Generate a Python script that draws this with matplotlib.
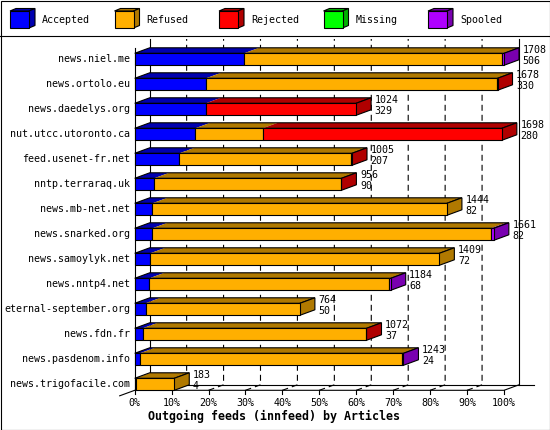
import numpy as np
import matplotlib
matplotlib.use('Agg')
import matplotlib.pyplot as plt
from matplotlib.patches import Polygon, Rectangle

plt.rcParams['lines.scale_dashes'] = False

# data
hosts = ['news.niel.me', 'news.ortolo.eu', 'news.daedelys.org',
         'nut.utcc.utoronto.ca', 'feed.usenet-fr.net', 'nntp.terraraq.uk',
         'news.mb-net.net', 'news.snarked.org', 'news.samoylyk.net',
         'news.nntp4.net', 'eternal-september.org', 'news.fdn.fr',
         'news.pasdenom.info', 'news.trigofacile.com']
offered = [1708, 1678, 1024, 1698, 1005, 956, 1444, 1661, 1409, 1184, 764, 1072, 1243, 183]
accepted = [506, 330, 329, 280, 207, 90, 82, 82, 72, 68, 50, 37, 24, 4]
refused = [1195, 1345, 0, 312, 795, 862, 1362, 1566, 1337, 1110, 714, 1031, 1214, 179]
rejected = [0, 3, 695, 1106, 3, 4, 0, 0, 0, 0, 0, 4, 0, 0]
missing = [0] * 14
spooled = [7, 0, 0, 0, 0, 0, 0, 13, 0, 6, 0, 0, 5, 0]
series = ['Accepted', 'Refused', 'Rejected', 'Missing', 'Spooled']
colors = ['#0000FF', '#FFAF00', '#FF0000', '#00FF00', '#AF00FF']
ticks = list(range(0, 101, 10))

FONT = 'DejaVu Sans Mono'
FS = 7.2
LW = 0.8


def shade(c):
    r, g, b = matplotlib.colors.to_rgb(c)
    return (r * 0.69, g * 0.69, b * 0.69)


# geometry (pixels)
X0_PX, PCT_PX = 134.7, 3.693
ROW0_PX, ROW_PX = 59.3, 25.0
DX = 15 / PCT_PX
DY = 5.5 / ROW_PX
BAR_H = 12 / ROW_PX

fig = plt.figure(figsize=(5.5, 4.3), dpi=100)
pax = fig.add_axes([0, 0, 1, 1])
pax.set_xlim(0, 550)
pax.set_ylim(430, 0)
pax.axis('off')

ax = fig.add_axes([0, 0, 1, 1], zorder=2)
ax.patch.set_visible(False)
ax.axis('off')
ax.set_xlim(-X0_PX / PCT_PX, (550 - X0_PX) / PCT_PX)
ax.set_ylim((430 - ROW0_PX) / ROW_PX, -ROW0_PX / ROW_PX)

# frame + legend
pax.add_patch(Rectangle((0.5, 0.5), 549, 429, fill=False, ec='black', lw=LW))
pax.plot([0, 550], [35.5, 35.5], color='black', lw=LW)
for k, (name, c) in enumerate(zip(series, colors)):
    bx = 10 + 104.5 * k
    pax.add_patch(Polygon([(bx, 11), (bx + 19, 11), (bx + 25, 8.5), (bx + 6, 8.5)],
                          closed=True, fc=shade(c), ec='black', lw=LW))
    pax.add_patch(Polygon([(bx + 19, 11), (bx + 25, 8.5), (bx + 25, 25.5), (bx + 19, 28)],
                          closed=True, fc=shade(c), ec='black', lw=LW))
    pax.add_patch(Rectangle((bx, 11), 19, 17, fc=c, ec='black', lw=LW))
    pax.text(bx + 32, 20, name, family=FONT, fontsize=FS, va='center', ha='left')

pax.text(148, 416.7, 'Outgoing feeds (innfeed) by Articles', family=FONT,
         fontsize=8.4, fontweight='bold', va='center', ha='left')

n = len(hosts)
base = n - 1 + BAR_H / 2
top = (39 - ROW0_PX) / ROW_PX
dash = (0, (4.3, 2.9))

# grid on back plane
for t in ticks[1:-1]:
    ax.plot([t, t + DX, t + DX], [base, base - DY, top], color='black', lw=LW,
            ls=dash, zorder=1)
ax.plot([DX, DX], [top, base - DY], color='black', lw=LW, zorder=1)
ax.plot([100 + DX, 100 + DX], [top, base - DY], color='black', lw=LW, zorder=1)
ax.plot([DX, 100 + 2 * DX], [base - DY, base - DY], color='black', lw=LW, zorder=1)
ax.plot([-DX, 0, 100, 100 + DX], [base + DY, base, base, base - DY],
        color='black', lw=LW, zorder=1)
ax.plot([0, 0], [-BAR_H / 2 - DY, base], color='black', lw=LW, zorder=1)
for t in ticks:
    ax.plot([t, t], [base, base + 3.5 / ROW_PX], color='black', lw=LW, zorder=1)
    ax.text(t, base + 12.5 / ROW_PX, f'{t}%', family=FONT, fontsize=FS,
            ha='center', va='center')

# stacked 3d bars
vmax = max(offered)
for i in range(n):
    vals = np.array([accepted[i], refused[i], rejected[i], missing[i], spooled[i]])
    widths = vals / vmax * 100
    lefts = np.concatenate([[0], np.cumsum(widths)[:-1]])
    end = widths.sum()
    yt, yb = i - BAR_H / 2, i + BAR_H / 2
    last = colors[np.nonzero(vals)[0][-1]]
    for w, l, c in zip(widths, lefts, colors):
        if w <= 0:
            continue
        ax.add_patch(Polygon([(l, yt), (l + w, yt), (l + w + DX, yt - DY), (l + DX, yt - DY)],
                             closed=True, fc=shade(c), ec='none', zorder=3))
    ax.add_patch(Polygon([(0, yt), (end, yt), (end + DX, yt - DY), (DX, yt - DY)],
                         closed=True, fill=False, ec='black', lw=LW, zorder=4))
    ax.add_patch(Polygon([(end, yt), (end + DX, yt - DY), (end + DX, yb - DY), (end, yb)],
                         closed=True, fc=shade(last), ec='black', lw=LW, zorder=4))
    keep = widths > 0
    ax.barh([i] * keep.sum(), widths[keep], left=lefts[keep], height=BAR_H,
            color=np.array(colors)[keep], edgecolor='black', lw=LW, zorder=5)

    lx = end + DX + 3.5 / PCT_PX
    ax.text(lx, i - 9.3 / ROW_PX, str(offered[i]), family=FONT, fontsize=FS,
            ha='left', va='center', zorder=6)
    ax.text(lx, i + 1.7 / ROW_PX, str(accepted[i]), family=FONT, fontsize=FS,
            ha='left', va='center', zorder=6)
    ax.text(-4.7 / PCT_PX, i, hosts[i], family=FONT, fontsize=FS,
            ha='right', va='center', zorder=6)

fig.savefig('out.png', dpi=100)
